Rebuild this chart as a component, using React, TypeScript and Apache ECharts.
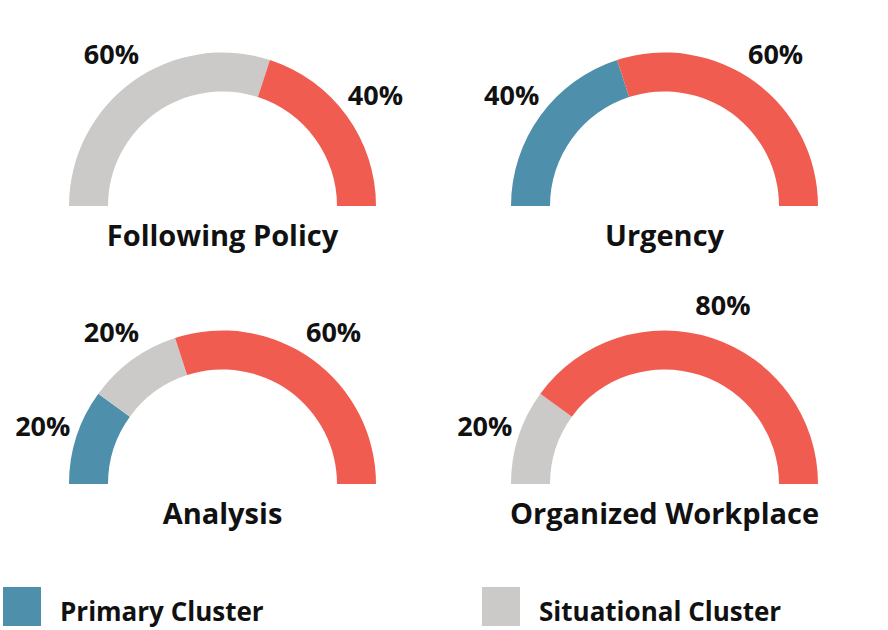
import React, { useEffect, useRef } from "react";
import * as echarts from "echarts";

const charts = ["Following Policy", "Urgency", "Analysis", "Organized Workplace"];
const seriesNames = ["Primary Cluster", "Situational Cluster", "Core Cluster"];
const primary = [0, 40, 20, 0];
const situational = [60, 0, 20, 20];
const core = [40, 60, 60, 80];
const colors = ["#4E8FAC", "#CBCAC8", "#F05C50"];

const centers: [number, number][] = [
  [222.5, 206],
  [664.5, 206],
  [222.5, 484],
  [664.5, 484],
];

const FONT = "Open Sans";

export default function App() {
  const ref = useRef<HTMLDivElement>(null);
  useEffect(() => {
    if (!ref.current) return;
    const chart = echarts.init(ref.current, null, { renderer: "svg" });
    const series: any[] = [];
    const graphic: any[] = [];
    charts.forEach((name, i) => {
      const vals = [primary[i], situational[i], core[i]];
      const total = vals.reduce((a, b) => a + b, 0);
      const items = vals
        .map((v, k) => ({ name: seriesNames[k], value: v, itemStyle: { color: colors[k] } }))
        .filter((d) => d.value > 0);
      const filler = {
        name: "filler",
        value: total,
        itemStyle: { color: "rgba(0,0,0,0)" },
        label: { show: false },
      };
      series.push({
        type: "pie",
        name,
        center: centers[i],
        radius: [114.5, 153.5],
        startAngle: 180,
        clockwise: true,
        silent: true,
        label: { show: false },
        labelLine: { show: false },
        data: [...items, filler],
      });
      series.push({
        type: "pie",
        name: name + " labels",
        center: centers[i],
        radius: [168, 204],
        startAngle: 180,
        clockwise: true,
        silent: true,
        label: {
          show: true,
          position: "inside",
          formatter: "{c}%",
          fontFamily: FONT,
          fontWeight: "bold",
          fontSize: 27,
          color: "#111",
          padding: [4, 0, 0, 0],
        },
        labelLine: { show: false },
        itemStyle: { color: "rgba(0,0,0,0)" },
        data: [
          ...items.map((d) => ({ ...d, itemStyle: { color: "rgba(0,0,0,0)" } })),
          filler,
        ],
      });
      graphic.push({
        type: "text",
        x: centers[i][0],
        y: centers[i][1] + 28,
        style: {
          text: name,
          textAlign: "center",
          textVerticalAlign: "middle",
          fontFamily: FONT,
          fontWeight: "bold",
          fontSize: 29,
          fill: "#111",
        },
      });
    });
    const legendBase = {
      top: 587,
      padding: 0,
      itemWidth: 38,
      itemHeight: 39,
      icon: "rect",
      selectedMode: false,
      formatter: "{a|{name}}",
      textStyle: {
        fontFamily: FONT,
        fontWeight: "bold",
        fontSize: 26,
        color: "#111",
        padding: [0, 0, 0, 14],
        rich: {
          a: {
            fontFamily: FONT,
            fontWeight: "bold",
            fontSize: 26,
            color: "#111",
            padding: [9, 0, 0, 0],
          },
        },
      },
    };
    chart.setOption({
      animation: false,
      backgroundColor: "#fff",
      legend: [
        { ...legendBase, left: 3, data: [seriesNames[0]] },
        { ...legendBase, left: 482, data: [seriesNames[1]] },
      ],
      graphic,
      series,
    });
    return () => chart.dispose();
  }, []);
  return (
    <div
      ref={ref}
      style={{ position: "fixed", left: 0, top: 0, width: 888, height: 630 }}
    />
  );
}
